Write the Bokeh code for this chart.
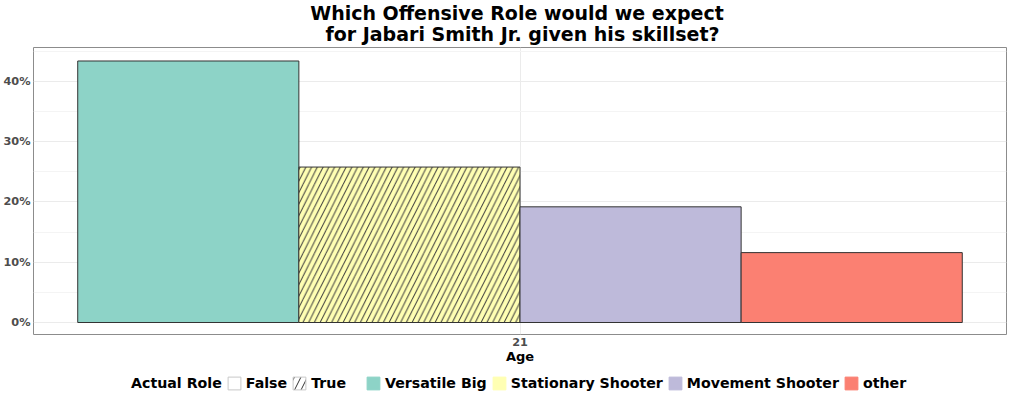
from bokeh.plotting import figure
from bokeh.layouts import column
from bokeh.models import (ColumnDataSource, Range1d, NumeralTickFormatter, FixedTicker,
                          Legend, LegendItem, Label)
from bokeh.embed import file_html
from bokeh.resources import INLINE

# ---- data ----
age = 21
roles = ["Versatile Big", "Stationary Shooter", "Movement Shooter", "other"]
shares = [0.434, 0.258, 0.192, 0.116]
actual_role = [False, True, False, False]
colors = ["#8DD3C7", "#FFFFB3", "#BEBADA", "#FB8072"]
y_ticks = [0.0, 0.1, 0.2, 0.3, 0.4]
title_lines = ["Which Offensive Role would we expect",
               "for Jabari Smith Jr. given his skillset?"]

n = len(roles)
bar_w = 1.0 / n
xs = [age - 0.5 + bar_w * (i + 0.5) for i in range(n)]
hatches = ["right_diagonal_line" if a else "blank" for a in actual_role]

src = ColumnDataSource(dict(x=xs, top=shares, role=roles, color=colors, hatch=hatches))

FONT = "DejaVu Sans"
W = 1007

# ---- title strip ----
ttl = figure(width=W, height=46, output_backend="svg", toolbar_location=None,
             x_range=Range1d(0, 1), y_range=Range1d(0, 46),
             x_axis_location=None, y_axis_location=None, min_border=0)
ttl.outline_line_color = None
ttl.grid.visible = False
for txt, yy, dx in zip(title_lines, [34, 13], [-3, 2.5]):
    ttl.add_layout(Label(x=0.5, y=yy, x_offset=dx, text=txt, text_align="center",
                         text_baseline="middle", text_font=FONT, text_font_style="bold",
                         text_font_size="19px", text_color="black"))

# ---- main plot ----
p = figure(width=W, height=329, output_backend="svg", toolbar_location=None,
           x_range=Range1d(age - 0.55, age + 0.55), y_range=Range1d(-0.0199, 0.4564),
           min_border_left=27, min_border_right=1, min_border_top=1, min_border_bottom=41)
p.background_fill_color = "white"
p.border_fill_color = "white"
p.outline_line_color = "#8c8c8c"
p.outline_line_width = 1

p.vbar(x="x", top="top", bottom=0, width=bar_w, source=src, fill_color="color",
       line_color="#333333", line_width=1, hatch_pattern="hatch", hatch_color="#3a3a3a",
       hatch_scale=11.5, hatch_weight=1)

p.yaxis.ticker = FixedTicker(ticks=y_ticks, minor_ticks=[0.05, 0.15, 0.25, 0.35, 0.45])
p.yaxis.formatter = NumeralTickFormatter(format="0%")
p.xaxis.ticker = FixedTicker(ticks=[age])
for ax in (p.xaxis[0], p.yaxis[0]):
    ax.axis_line_color = None
    ax.major_tick_line_color = None
    ax.minor_tick_line_color = None
    ax.major_tick_out = 0
    ax.major_tick_in = 0
    ax.minor_tick_out = 0
    ax.minor_tick_in = 0
    ax.major_label_text_font = FONT
    ax.major_label_text_font_style = "bold"
    ax.major_label_text_font_size = "11.3px"
    ax.major_label_text_color = "#4d4d4d"
    ax.major_label_standoff = 3
p.xaxis.axis_label = "Age"
p.xaxis.axis_label_text_font = FONT
p.xaxis.axis_label_text_font_style = "bold"
p.xaxis.axis_label_text_font_size = "13px"
p.xaxis.axis_label_text_color = "black"
p.xaxis.axis_label_standoff = 0

p.xgrid.grid_line_color = "#ebebeb"
p.ygrid.grid_line_color = "#ebebeb"
p.ygrid.minor_grid_line_color = "#f4f4f4"

# ---- legend strip ----
leg = figure(width=W, height=16, output_backend="svg", toolbar_location=None,
             x_range=Range1d(0, 1), y_range=Range1d(0, 1),
             x_axis_location=None, y_axis_location=None, min_border=0)
leg.outline_line_color = None
leg.grid.visible = False

nan = float("nan")
def key(**kw):
    return leg.vbar(x=[nan], top=[nan], width=0.1, **kw)

r_title = key(fill_alpha=0, line_alpha=0)
r_false = key(fill_color="white", line_color="#c8c8c8")
r_true = key(fill_color="white", line_color="#c8c8c8", hatch_pattern="right_diagonal_line",
             hatch_color="#333333", hatch_scale=13, hatch_weight=1)
items1 = [LegendItem(label="Actual Role", renderers=[r_title]),
          LegendItem(label="False", renderers=[r_false]),
          LegendItem(label="True", renderers=[r_true])]
items2 = []
for role, c in zip(roles, colors):
    r = key(fill_color=c, line_color=c)
    items2.append(LegendItem(label=role, renderers=[r]))

common = dict(orientation="horizontal", glyph_width=16, glyph_height=16,
              label_standoff=4, spacing=4, padding=0, margin=0,
              label_height=14, label_width=0,
              border_line_color=None, background_fill_alpha=0,
              label_text_font=FONT, label_text_font_style="bold",
              label_text_font_size="14.2px", label_text_color="black")
leg.add_layout(Legend(items=items1, location=(78, 0), **common))
leg.add_layout(Legend(items=items2, location=(332, 0), **common))

layout = column(ttl, p, leg, spacing=0)
open("out.html", "w").write(file_html(layout, INLINE))
